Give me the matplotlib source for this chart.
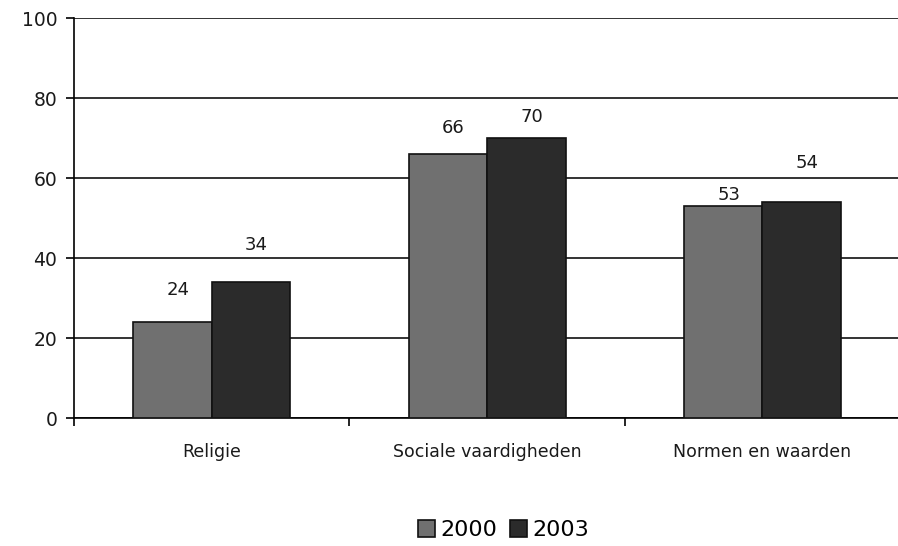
import matplotlib.pyplot as plt
import numpy as np

categories = ["Religie", "Sociale vaardigheden", "Normen en waarden"]
years = ["2000", "2003"]
values_2000 = [24, 66, 53]
values_2003 = [34, 70, 54]
# vertical offsets of the data labels
label_off_2000 = [8, 6.5, 2.8]
label_off_2003 = [9.2, 5.2, 9.8]

plt.rcParams['font.family'] = ['DejaVu Sans']

fig = plt.figure(figsize=(8.98, 5.46), dpi=100)
ax = fig.add_axes([0.0824, 0.234, 0.92, 0.733])

x = np.arange(len(categories))
w = 0.285
ax.bar(x - w / 2, values_2000, w, color='#707070', edgecolor='#111111', linewidth=1.2, label=years[0], zorder=3)
ax.bar(x + w / 2, values_2003, w, color='#2b2b2b', edgecolor='#111111', linewidth=1.2, label=years[1], zorder=3)

for xi, v, off in zip(x - w / 2, values_2000, label_off_2000):
    ax.text(xi + 0.02, v + off, str(v), ha='center', va='center', fontsize=13, color='#1a1a1a')
for xi, v, off in zip(x + w / 2, values_2003, label_off_2003):
    ax.text(xi + 0.02, v + off, str(v), ha='center', va='center', fontsize=13, color='#1a1a1a')

ax.set_ylim(0, 100)
ax.set_xlim(-0.5, 2.5)
ax.set_yticks(range(0, 101, 20))
ax.yaxis.grid(True, color='#111111', linewidth=1.2, zorder=0)
ax.set_axisbelow(True)

ax.set_xticks(x)
ax.set_xticklabels(categories, fontsize=12.5, color='#1a1a1a')
ax.set_xticks([-0.5, 0.5, 1.5, 2.5], minor=True)
ax.tick_params(axis='x', which='major', length=0, pad=18)
ax.tick_params(axis='x', which='minor', length=6, width=1.2, direction='out')
ax.tick_params(axis='y', length=6, width=1.2, labelsize=13.5, labelcolor='#1a1a1a', pad=6)

ax.spines['top'].set_visible(False)
ax.spines['right'].set_visible(False)
ax.spines['left'].set_linewidth(1.2)
ax.spines['bottom'].set_linewidth(1.2)

ax.legend(loc='center', bbox_to_anchor=(0.52, -0.28), ncol=2, frameon=False,
          fontsize=16, handlelength=0.75, handleheight=0.75, handletextpad=0.25, columnspacing=0.6)

fig.savefig("out.png", dpi=100)
